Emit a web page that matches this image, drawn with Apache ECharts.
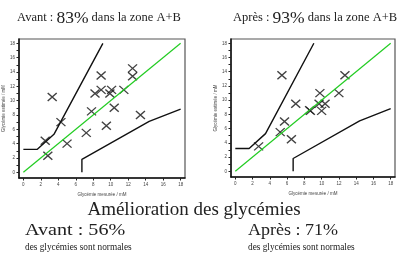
<!DOCTYPE html>
<html>
<head>
<meta charset="utf-8">
<script src="https://cdn.jsdelivr.net/npm/echarts@6/dist/echarts.min.js"></script>
<style>
  html, body { margin: 0; padding: 0; background: #fff; }
  #chart { width: 410px; height: 260px; }
</style>
</head>
<body>
<div id="chart"></div>
<script>
// points [measured, estimated] in mM
var avantPoints = [
  [2.5, 4.4], [2.8, 2.3], [3.3, 10.5], [4.3, 7.0], [5.0, 4.0], [7.2, 5.5],
  [7.8, 8.5], [8.2, 11.0], [8.9, 13.5], [8.9, 11.5], [9.5, 6.5], [9.9, 11.0],
  [10.1, 11.5], [10.4, 9.0], [11.5, 11.5], [12.5, 14.5], [12.5, 13.4], [13.4, 8.0]
];
var apresPoints = [
  [2.7, 3.5], [5.2, 5.5], [5.4, 13.5], [5.7, 7.0], [6.5, 4.5], [7.0, 9.5],
  [8.6, 8.6], [8.7, 8.5], [9.7, 9.5], [9.8, 11.0], [10.0, 8.5], [10.4, 9.5],
  [12.0, 11.0], [12.7, 13.5]
];
var diagonal = [[0, 0], [18, 18]];
var upperZone = [[0, 3.2], [1.6, 3.2], [3.5, 5.3], [9.1, 18]];
var lowerZone = [[6.7, 0], [6.7, 1.8], [14.4, 7.1], [18, 8.8]];
var labelTicks = [0, 2, 4, 6, 8, 10, 12, 14, 16, 18];
var minorTicks = [0, 1, 2, 3, 4, 5, 6, 7, 8, 9, 10, 11, 12, 13, 14, 15, 16, 17, 18];

var titles = [
  { before: 'Avant : ', pct: '83%', after: ' dans la zone A+B', x: 94 },
  { before: 'Après : ', pct: '93%', after: ' dans la zone A+B', x: 310 }
];

var serif = '"Liberation Serif", "DejaVu Serif", serif';
var sans = '"Liberation Sans", Arial, sans-serif';

var chart = echarts.init(document.getElementById('chart'));

function xAxisFor(i) {
  return {
    gridIndex: i, type: 'value', min: -0.5, max: 18.5,
    name: 'Glycémie mesurée / mM', nameLocation: 'middle', nameGap: 12,
    nameTextStyle: { fontSize: 4.5, color: '#444', fontFamily: sans },
    splitLine: { show: false },
    axisLine: { show: true, onZero: false, lineStyle: { color: '#111', width: 1.5 } },
    axisTick: { show: true, customValues: labelTicks, inside: false, length: 2.5, lineStyle: { color: '#222' } },
    axisLabel: { customValues: labelTicks, fontSize: 4.5, color: '#444', margin: 4, fontFamily: sans }
  };
}
function yAxisFor(i) {
  return {
    gridIndex: i, type: 'value', min: -0.8, max: 18.6,
    name: 'Glycémie estimée / mM', nameLocation: 'middle', nameGap: 12,
    nameTextStyle: { fontSize: 4.5, color: '#444', fontFamily: sans },
    splitLine: { show: false },
    axisLine: { show: true, onZero: false, lineStyle: { color: '#111', width: 1.5 } },
    axisTick: { show: true, customValues: minorTicks, inside: false, length: 2.5, lineStyle: { color: '#222' } },
    axisLabel: { customValues: labelTicks, fontSize: 4.5, color: '#444', margin: 4, fontFamily: sans }
  };
}

var cross = 'path://M0,0L10,10M10,0L0,10';
function seriesFor(i, pts) {
  var lineStyle = { color: '#111', width: 1.4 };
  return [
    { type: 'line', xAxisIndex: i, yAxisIndex: i, data: diagonal, showSymbol: false, silent: true,
      lineStyle: { color: '#22cc22', width: 1.2 } },
    { type: 'line', xAxisIndex: i, yAxisIndex: i, data: upperZone, showSymbol: false, silent: true, lineStyle: lineStyle },
    { type: 'line', xAxisIndex: i, yAxisIndex: i, data: lowerZone, showSymbol: false, silent: true, lineStyle: lineStyle },
    { type: 'scatter', xAxisIndex: i, yAxisIndex: i, data: pts, symbol: cross, symbolSize: [9, 8],
      itemStyle: { color: 'rgba(0,0,0,0)', borderColor: '#111', borderWidth: 1.3 } }
  ];
}

var option = {
  animation: false,
  backgroundColor: '#fff',
  title: titles.map(function (t) {
    return {
      text: '{a|' + t.before + '}{b|' + t.pct + '}{a|' + t.after + '}',
      left: t.x, top: 4, textAlign: 'center',
      textStyle: {
        fontWeight: 'normal',
        rich: {
          a: { fontSize: 12.5, fontFamily: serif, color: '#222', fontWeight: 'normal' },
          b: { fontSize: 17.5, fontFamily: serif, color: '#222', fontWeight: 'normal' }
        }
      }
    };
  }),
  grid: [
    { left: 19, top: 39, width: 166, height: 139, show: true, borderColor: '#555', borderWidth: 1.2 },
    { left: 231, top: 39, width: 164, height: 138, show: true, borderColor: '#555', borderWidth: 1.2 }
  ],
  xAxis: [xAxisFor(0), xAxisFor(1)],
  yAxis: [yAxisFor(0), yAxisFor(1)],
  series: seriesFor(0, avantPoints).concat(seriesFor(1, apresPoints)),
  graphic: [
    { type: 'text', x: 194, y: 220, style: { text: 'Amélioration des glycémies', fontSize: 19, fontFamily: serif, fill: '#222', textAlign: 'center', textVerticalAlign: 'bottom' } },
    { type: 'text', x: 25, y: 239, scaleX: 1.15, style: { text: 'Avant : 56%', fontSize: 17.5, fontFamily: serif, fill: '#222', textVerticalAlign: 'bottom' } },
    { type: 'text', x: 25, y: 252, style: { text: 'des glycémies sont normales', fontSize: 9.3, fontFamily: serif, fill: '#222', textVerticalAlign: 'bottom' } },
    { type: 'text', x: 248, y: 239, scaleX: 1.03, style: { text: 'Après : 71%', fontSize: 17.5, fontFamily: serif, fill: '#222', textVerticalAlign: 'bottom' } },
    { type: 'text', x: 248, y: 252, style: { text: 'des glycémies sont normales', fontSize: 9.3, fontFamily: serif, fill: '#222', textVerticalAlign: 'bottom' } }
  ]
};

chart.setOption(option);
</script>
</body>
</html>
